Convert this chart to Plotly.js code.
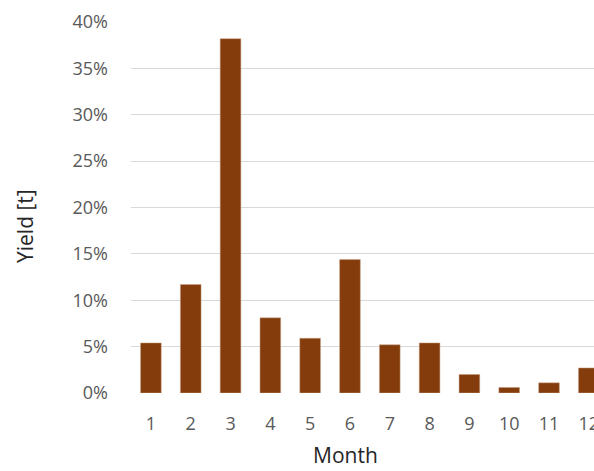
<!DOCTYPE html>
<html>
<head>
<meta charset="utf-8">
<script src="https://cdn.plot.ly/plotly-3.0.1.min.js"></script>
<style>html,body{margin:0;padding:0;overflow:hidden;background:#fff}</style>
</head>
<body>
<div id="chart" style="width:594px;height:471px"></div>
<script>
const months = [1,2,3,4,5,6,7,8,9,10,11,12];
const yieldShare = [0.054,0.117,0.382,0.081,0.059,0.144,0.052,0.054,0.020,0.006,0.011,0.027];
const yTicks = [0,0.05,0.10,0.15,0.20,0.25,0.30,0.35,0.40];
const yTickText = ['0%','5%','10%','15%','20%','25%','30%','35%','40%'];

const tickFont = {family:'Open Sans, sans-serif', size:18, color:'#595959'};
Plotly.newPlot('chart', [{
  type:'bar', x:months, y:yieldShare,
  marker:{color:'#843C0C', line:{color:'#c9a48c', width:0.5}},
  width:0.52, hoverinfo:'skip', cliponaxis:true
}], {
  width:594, height:471,
  margin:{l:131, r:0, t:22, b:78},
  paper_bgcolor:'#fff', plot_bgcolor:'#fff',
  showlegend:false,
  xaxis:{type:'linear', range:[0.5,12.13], tickvals:months, ticktext:months.map(String),
         showgrid:false, zeroline:false, showline:false, ticks:'', tickfont:tickFont,
         ticklabelstandoff:18, ticklabeloverflow:'allow'},
  yaxis:{range:[0,0.4], tickvals:yTicks, ticktext:yTickText, showgrid:true,
         gridcolor:'#d9d9d9', gridwidth:1, zeroline:false, showline:false, ticks:'',
         tickfont:tickFont, ticklabelstandoff:22},
  annotations:[
    {text:'Month', xref:'paper', yref:'paper', x:(345-131)/463, y:-(470-393)/371,
     xanchor:'center', yanchor:'bottom', showarrow:false, borderpad:0,
     font:{family:'Open Sans, sans-serif', size:21, color:'#262626'}},
    {text:'Yield [t]', xref:'paper', yref:'paper', x:-(131-25)/463, y:(393-226)/371,
     xanchor:'center', yanchor:'middle', showarrow:false, textangle:-90,
     font:{family:'Open Sans, sans-serif', size:21, color:'#262626'}}
  ]
}, {staticPlot:true, displayModeBar:false});
</script>
</body>
</html>
